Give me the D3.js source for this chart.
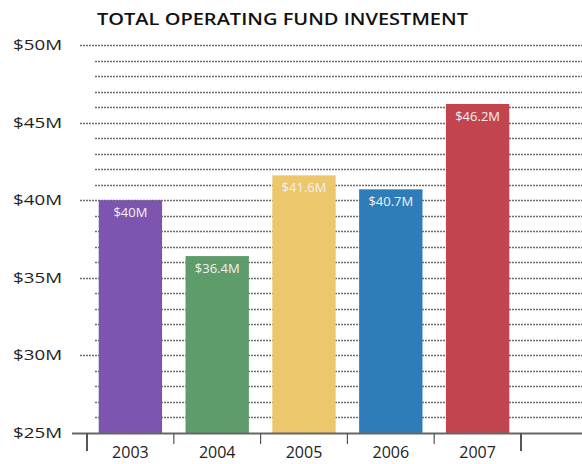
<!DOCTYPE html>
<html><head><meta charset="utf-8">
<script src="https://cdn.jsdelivr.net/npm/d3@7"></script>
<style>body{margin:0;background:#fff}svg{display:block}</style>
</head><body>
<script>
const years = ["2003","2004","2005","2006","2007"];
const values = [40, 36.4, 41.6, 40.7, 46.2];
const valueLabels = ["$40M","$36.4M","$41.6M","$40.7M","$46.2M"];
const colors = ["#7d55ae","#5f9c6c","#ecc76c","#2f7db8","#c2444f"];
const majorTicks = [25,30,35,40,45,50];
const tickLabels = ["$25M","$30M","$35M","$40M","$45M","$50M"];
const title = "TOTAL OPERATING FUND INVESTMENT";

const W=582,H=464;
const svg=d3.select("body").append("svg").attr("width",W).attr("height",H);
const y=d3.scaleLinear().domain([25,50]).range([433,45]);
const x=d3.scaleBand().domain(years).range([87,521]).paddingInner(0.27).paddingOuter(0.135);
const font="'Open Sans','DejaVu Sans',sans-serif";

svg.append("text").attr("x",97).attr("y",25).text(title)
  .attr("font-family",font).attr("font-weight",600)
  .attr("font-size",16).attr("fill","#111").attr("textLength",371).attr("lengthAdjust","spacingAndGlyphs");

// grid lines
const minor=d3.range(26,50).filter(v=>v%5!==0);
svg.append("g").selectAll("line").data(minor).join("line")
  .attr("x1",95).attr("x2",W).attr("y1",d=>Math.round(y(d))+0.5).attr("y2",d=>Math.round(y(d))+0.5)
  .attr("stroke","#6e6e6e").attr("stroke-width",1.3).attr("stroke-dasharray","2,1");
svg.append("g").selectAll("line").data(majorTicks.filter(v=>v>25)).join("line")
  .attr("x1",80).attr("x2",W).attr("y1",d=>Math.round(y(d))+0.5).attr("y2",d=>Math.round(y(d))+0.5)
  .attr("stroke","#6e6e6e").attr("stroke-width",1.3).attr("stroke-dasharray","2,1");

// y labels
svg.append("g").selectAll("text").data(majorTicks).join("text")
  .attr("x",62).attr("y",d=>y(d)+5).attr("text-anchor","end").text((d,i)=>tickLabels[i])
  .attr("font-family",font).attr("font-size",15).attr("fill","#222")
  .attr("textLength",49).attr("lengthAdjust","spacingAndGlyphs");

// bars
svg.append("g").selectAll("rect").data(values).join("rect")
  .attr("x",(d,i)=>x(years[i])).attr("width",x.bandwidth())
  .attr("y",d=>y(d)).attr("height",d=>y(25)-y(d)).attr("fill",(d,i)=>colors[i]);

svg.append("g").selectAll("text").data(values).join("text")
  .attr("x",(d,i)=>x(years[i])+x.bandwidth()/2).attr("y",d=>y(d)+17)
  .attr("text-anchor","middle").text((d,i)=>valueLabels[i])
  .attr("font-family",font).attr("font-size",13).attr("fill","#f4f0f0");

// x axis
const ax=svg.append("g").attr("transform","translate(0,433)");
ax.append("line").attr("x1",72).attr("x2",W).attr("y1",0.5).attr("y2",0.5).attr("stroke","#666").attr("stroke-width",2);
const bounds=years.map(yv=>x(yv)-x.step()*x.paddingInner()/2);
bounds.push(x(years[4])+x.bandwidth()+x.step()*x.paddingInner()/2);
ax.selectAll("line.t").data(bounds).join("line").attr("class","t")
  .attr("x1",d=>d).attr("x2",d=>d).attr("y1",0).attr("y2",(d,i)=>i===0||i===5?18:11)
  .attr("stroke","#555").attr("stroke-width",(d,i)=>i===0||i===5?2:1.2);
ax.selectAll("text").data(years).join("text")
  .attr("x",d=>x(d)+x.bandwidth()/2).attr("y",25).attr("text-anchor","middle").text(d=>d)
  .attr("font-family",font).attr("font-size",16).attr("fill","#222");
</script>
</body></html>
